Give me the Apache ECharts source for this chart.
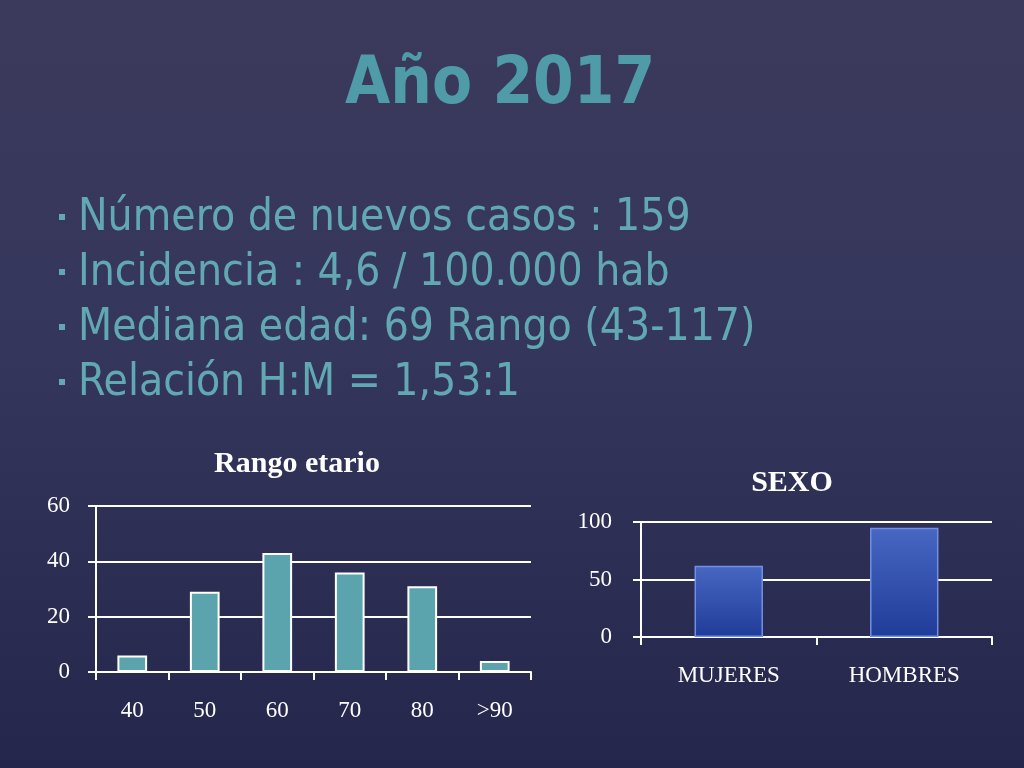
<!DOCTYPE html>
<html>
<head>
<meta charset="utf-8">
<script src="https://cdn.jsdelivr.net/npm/echarts@6/dist/echarts.min.js"></script>
<style>
html,body{margin:0;padding:0;width:1024px;height:768px;overflow:hidden;}
body{background:linear-gradient(180deg,#3b3a5c 0%,#35365c 45%,#25264b 100%);}
#c{width:1024px;height:768px;}
</style>
</head>
<body>
<div id="c"></div>
<script>
var slideTitle = 'Año 2017';
var bullets = [
  'Número de nuevos casos : 159',
  'Incidencia : 4,6 / 100.000 hab',
  'Mediana edad: 69 Rango (43-117)',
  'Relación H:M = 1,53:1'
];
var ageTitle = 'Rango etario';
var ageCategories = ['40', '50', '60', '70', '80', '>90'];
var ageValues = [6, 29, 43, 36, 31, 4];
var sexTitle = 'SEXO';
var sexCategories = ['MUJERES', 'HOMBRES'];
var sexValues = [62, 95];

var chart = echarts.init(document.getElementById('c'), null, {renderer: 'canvas'});
var serif = 'Liberation Serif';
var sans = 'DejaVu Sans Condensed';
var teal = '#62a8b3';

var graphics = [{
  type: 'text', x: 345, y: 54,
  style: {text: slideTitle, fill: '#4f9ba8', font: 'bold 65px "' + sans + '"',
    shadowColor: 'rgba(0,0,0,0.35)', shadowOffsetX: 2, shadowOffsetY: 2, shadowBlur: 3}
}];
bullets.forEach(function (b, i) {
  var cy = 215 + i * 55;
  graphics.push({type: 'rect', shape: {x: 59, y: cy - 1, width: 6, height: 6}, style: {fill: teal}});
  graphics.push({type: 'text', x: 78, y: cy + 4, style: {text: b, fill: teal, font: '44px "' + sans + '"',
    textVerticalAlign: 'middle', verticalAlign: 'middle',
    shadowColor: 'rgba(0,0,0,0.35)', shadowOffsetX: 2, shadowOffsetY: 2, shadowBlur: 3}});
});

var axisLabel = {color: '#ffffff', fontFamily: serif, fontSize: 23};
chart.setOption({
  backgroundColor: 'transparent',
  animation: false,
  graphic: graphics,
  title: [
    {text: ageTitle, left: 292, top: 444, textAlign: 'center',
      textStyle: {color: '#fff', fontFamily: serif, fontWeight: 'bold', fontSize: 30}},
    {text: sexTitle, left: 787, top: 463, textAlign: 'center',
      textStyle: {color: '#fff', fontFamily: serif, fontWeight: 'bold', fontSize: 30}}
  ],
  grid: [
    {left: 96, top: 506, width: 435, height: 166},
    {left: 641, top: 522, width: 351, height: 115}
  ],
  xAxis: [
    {type: 'category', gridIndex: 0, data: ageCategories,
      axisLine: {lineStyle: {color: '#fff', width: 2}},
      axisTick: {show: true, length: 8, lineStyle: {color: '#fff', width: 2}},
      axisLabel: Object.assign({margin: 27}, axisLabel)},
    {type: 'category', gridIndex: 1, data: sexCategories,
      axisLine: {lineStyle: {color: '#fff', width: 2}},
      axisTick: {show: true, length: 8, lineStyle: {color: '#fff', width: 2}},
      axisLabel: Object.assign({margin: 27}, axisLabel)}
  ],
  yAxis: [
    {type: 'value', gridIndex: 0, min: 0, max: 60, interval: 20,
      axisLine: {show: true, lineStyle: {color: '#fff', width: 2}},
      axisTick: {show: true, length: 8, lineStyle: {color: '#fff', width: 2}},
      splitLine: {lineStyle: {color: '#fff', width: 2}},
      axisLabel: Object.assign({margin: 26}, axisLabel)},
    {type: 'value', gridIndex: 1, min: 0, max: 100, interval: 50,
      axisLine: {show: true, lineStyle: {color: '#fff', width: 2}},
      axisTick: {show: true, length: 8, lineStyle: {color: '#fff', width: 2}},
      splitLine: {lineStyle: {color: '#fff', width: 2}},
      axisLabel: Object.assign({margin: 29}, axisLabel)}
  ],
  series: [
    {type: 'bar', xAxisIndex: 0, yAxisIndex: 0, data: ageValues, barWidth: '41%',
      itemStyle: {color: '#5ba3ad', borderColor: '#ffffff', borderWidth: 2}},
    {type: 'bar', xAxisIndex: 1, yAxisIndex: 1, data: sexValues, barWidth: '39%',
      itemStyle: {
        color: new echarts.graphic.LinearGradient(0, 0, 0, 1, [
          {offset: 0, color: '#4767c2'}, {offset: 1, color: '#1f3c98'}]),
        borderColor: '#6f90e6', borderWidth: 1.5}}
  ]
});
</script>
</body>
</html>
